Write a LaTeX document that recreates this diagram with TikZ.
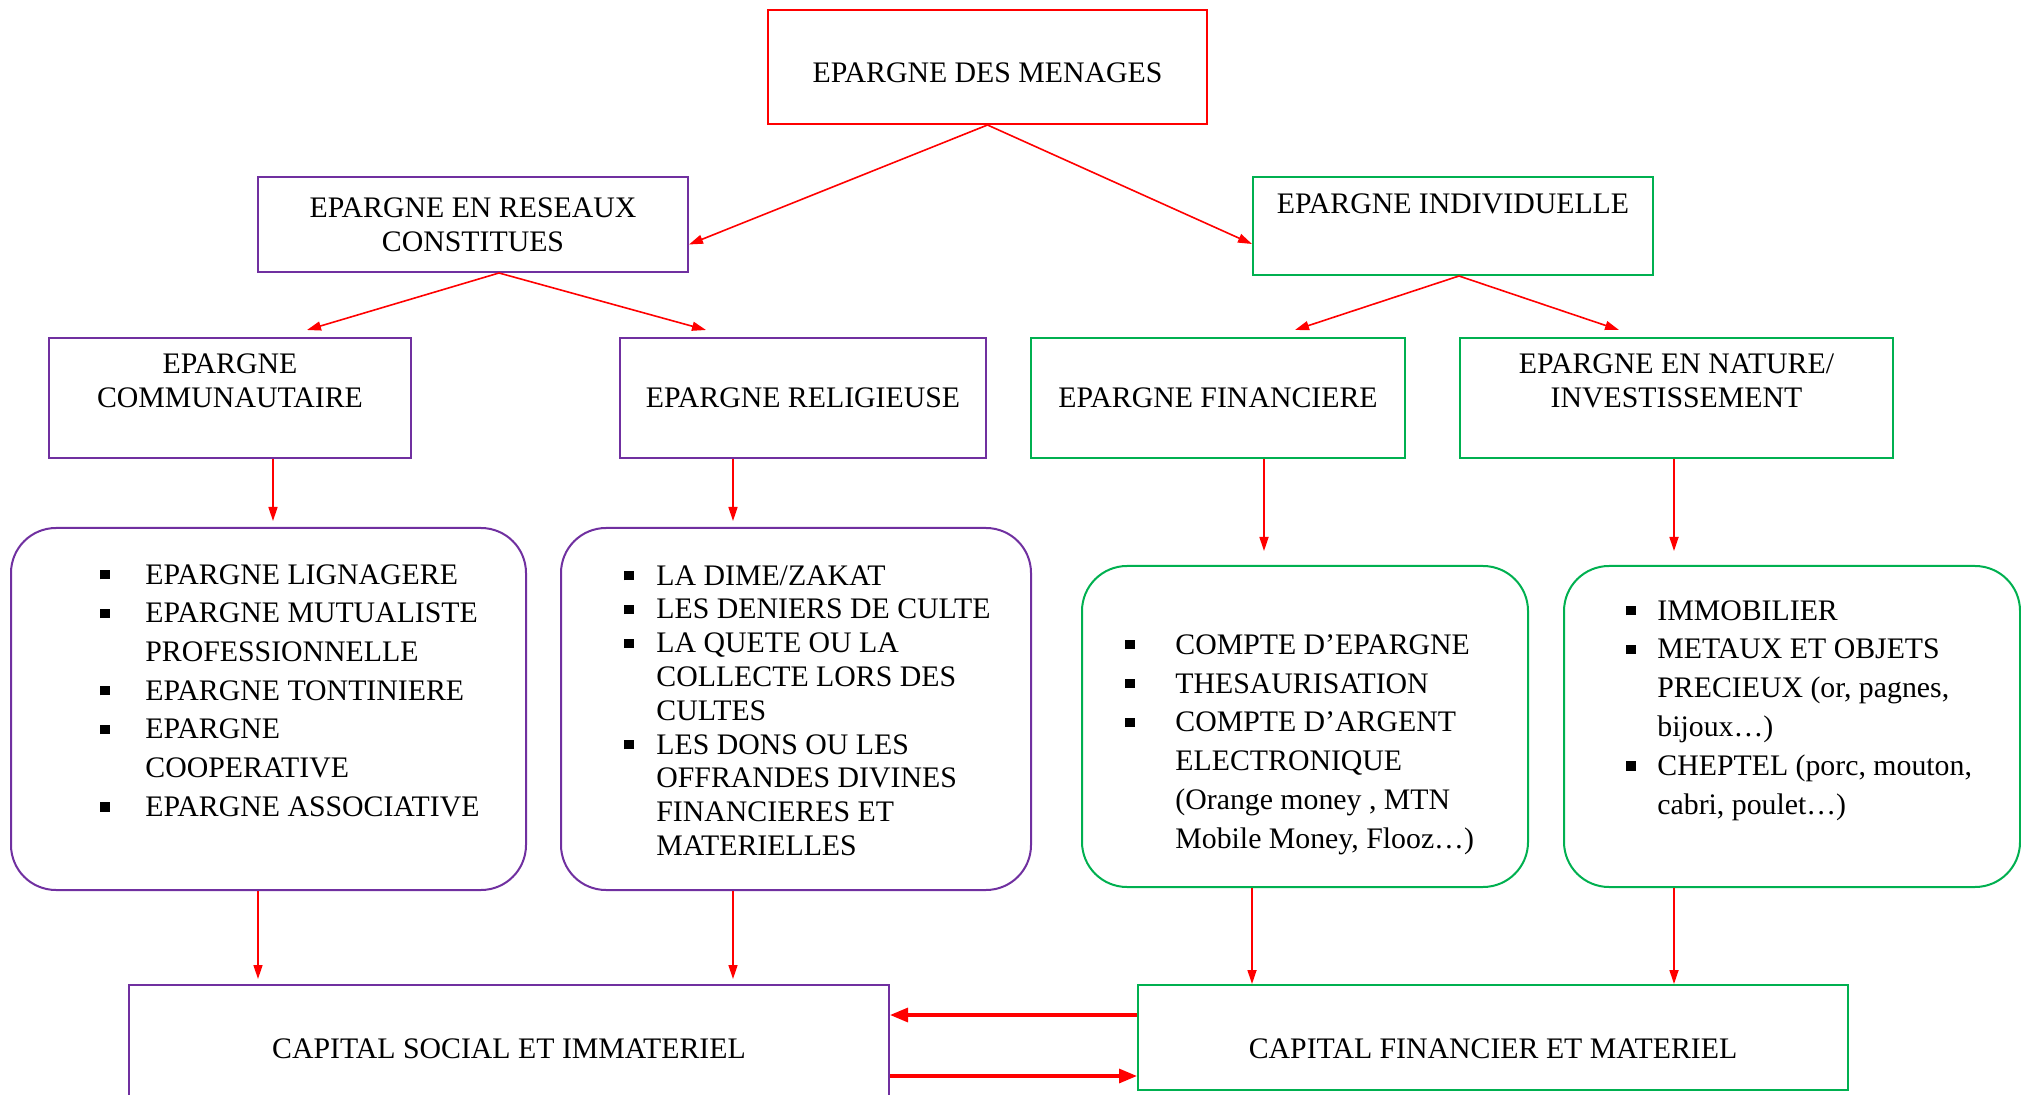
\documentclass[tikz,border=0pt]{standalone}
\usepackage{fontspec}
\setmainfont{Liberation Serif}
\usepackage{tikz}
\usetikzlibrary{arrows.meta,calc,positioning}
\definecolor{violet1}{RGB}{112,48,160}
\definecolor{vert1}{RGB}{0,176,80}
\tikzstyle{line}=[draw]
\tikzstyle{fleche}=[line width=0.8pt, red, -{Triangle[length=7pt,width=4.5pt]}]
\tikzstyle{grosse}=[line width=1.6pt, red, -{Triangle[length=9pt,width=7pt]}]
\tikzstyle{cadre}=[draw, line width=1pt, inner sep=0pt, align=center, font=\fontsize{14.9}{17}\selectfont]
\tikzstyle{arrondi}=[cadre, rounded corners=22.5pt]
\tikzstyle{liste}=[inner sep=0pt, anchor=north west, align=left]
\newcommand{\puce}[1]{\makebox[#1][l]{\raisebox{2.4pt}{\rule{4.6pt}{4.6pt}}}}

\begin{document}
\begin{tikzpicture}[x=0.5pt,y=-0.5pt]
\path[fill=white] (0,0) rectangle (2021,1095);
\useasboundingbox (0,0) rectangle (2021,1095);
% niveau 1 et 2
\node[cadre,draw=red,minimum width=219.5pt,minimum height=57pt,text height=15.6pt](menages) at (987.5,67){EPARGNE DES MENAGES};
\node[cadre,draw=violet1,minimum width=215pt,minimum height=47.5pt](reseaux) at (473,224.5){EPARGNE EN RESEAUX\\CONSTITUES};
\node[cadre,draw=vert1,minimum width=200pt,minimum height=49pt](individuelle) at (1453,226){EPARGNE INDIVIDUELLE\\\strut};
% niveau 3
\node[cadre,draw=violet1,minimum width=181pt,minimum height=60pt](communautaire) at (230,398){EPARGNE\\COMMUNAUTAIRE\\\mbox{}};
\node[cadre,draw=violet1,minimum width=183pt,minimum height=60pt](religieuse) at (803,398){EPARGNE RELIGIEUSE};
\node[cadre,draw=vert1,minimum width=187pt,minimum height=60pt](financiere) at (1218,398){EPARGNE FINANCIERE};
\node[cadre,draw=vert1,minimum width=216.5pt,minimum height=60pt](nature) at (1676.5,398){EPARGNE EN NATURE/\\INVESTISSEMENT\\\mbox{}};
% listes
\node[arrondi,draw=violet1,minimum width=257.5pt,minimum height=181pt](liste1) at (268.5,709){};
\node[arrondi,draw=violet1,minimum width=235pt,minimum height=181pt](liste2) at (796,709){};
\node[arrondi,draw=vert1,minimum width=223pt,minimum height=160.5pt](liste3) at (1305,726.5){};
\node[arrondi,draw=vert1,minimum width=228pt,minimum height=160.5pt](liste4) at (1792,726.5){};
\node[liste,font=\fontsize{14.9}{19.35}\selectfont](texte1) at (100,564){\puce{22.5pt}EPARGNE LIGNAGERE\\
\puce{22.5pt}EPARGNE MUTUALISTE\\
\hspace*{22.5pt}PROFESSIONNELLE\\
\puce{22.5pt}EPARGNE TONTINIERE\\
\puce{22.5pt}EPARGNE\\
\hspace*{22.5pt}COOPERATIVE\\
\puce{22.5pt}EPARGNE ASSOCIATIVE};
\node[liste,font=\fontsize{14.9}{16.9}\selectfont](texte2) at (624,565){\puce{16pt}LA DIME/ZAKAT\\
\puce{16pt}LES DENIERS DE CULTE\\
\puce{16pt}LA QUETE OU LA\\
\hspace*{16pt}COLLECTE LORS DES\\
\hspace*{16pt}CULTES\\
\puce{16pt}LES DONS OU LES\\
\hspace*{16pt}OFFRANDES DIVINES\\
\hspace*{16pt}FINANCIERES ET\\
\hspace*{16pt}MATERIELLES};
\node[liste,font=\fontsize{14.9}{19.4}\selectfont](texte3) at (1125,634){\puce{25pt}COMPTE D’EPARGNE\\
\puce{25pt}THESAURISATION\\
\puce{25pt}COMPTE D’ARGENT\\
\hspace*{25pt}ELECTRONIQUE\\
\hspace*{25pt}(Orange money , MTN\\
\hspace*{25pt}Mobile Money, Flooz…)};
\node[liste,font=\fontsize{14.9}{19.4}\selectfont](texte4) at (1626,600){\puce{15.5pt}IMMOBILIER\\
\puce{15.5pt}METAUX ET OBJETS\\
\hspace*{15.5pt}PRECIEUX (or, pagnes,\\
\hspace*{15.5pt}bijoux…)\\
\puce{15.5pt}CHEPTEL (porc, mouton,\\
\hspace*{15.5pt}cabri, poulet…)};
% capitaux
\node[cadre,draw=violet1,minimum width=380pt,minimum height=64pt](social) at (509,1049){CAPITAL SOCIAL ET IMMATERIEL};
\node[cadre,draw=vert1,minimum width=355pt,minimum height=52.5pt,text height=21pt](financier) at (1493,1037.5){CAPITAL FINANCIER ET MATERIEL};
% fleches
\draw[fleche](menages.south)--([yshift=-10pt]reseaux.east);
\draw[fleche](menages.south)--([yshift=-9pt]individuelle.west);
\draw[fleche]([xshift=13pt]reseaux.south)--([shift={(38.5pt,3.5pt)}]communautaire.north);
\draw[fleche]([xshift=13pt]reseaux.south)--([shift={(-48.5pt,3.5pt)}]religieuse.north);
\draw[fleche]([xshift=3pt]individuelle.south)--([shift={(38.5pt,3.5pt)}]financiere.north);
\draw[fleche]([xshift=3pt]individuelle.south)--([shift={(-28.75pt,3.5pt)}]nature.north);
\draw[fleche,shorten >=3pt]([xshift=21.5pt]communautaire.south)--([xshift=21.5pt]communautaire.south |- liste1.north);
\draw[fleche,shorten >=3pt]([xshift=-35pt]religieuse.south)--([xshift=-35pt]religieuse.south |- liste2.north);
\draw[fleche,shorten >=7pt]([xshift=23pt]financiere.south)--([xshift=23pt]financiere.south |- liste3.north);
\draw[fleche,shorten >=7pt]([xshift=-1.25pt]nature.south)--([xshift=-1.25pt]nature.south |- liste4.north);
\draw[fleche,shorten >=2.5pt]([xshift=-5.25pt]liste1.south)--([xshift=-5.25pt]liste1.south |- social.north);
\draw[fleche,shorten >=2.5pt]([xshift=-31.5pt]liste2.south)--([xshift=-31.5pt]liste2.south |- social.north);
\draw[fleche]([xshift=-26.5pt]liste3.south)--([xshift=-26.5pt]liste3.south |- financier.north);
\draw[fleche]([xshift=-59pt]liste4.south)--([xshift=-59pt]liste4.south |- financier.north);
\draw[grosse]([yshift=11.25pt]financier.west)--([yshift=11.25pt]financier.west -| social.east);
\draw[grosse]([yshift=-19.25pt]financier.west -| social.east)--([yshift=-19.25pt]financier.west);
\end{tikzpicture}
\end{document}
